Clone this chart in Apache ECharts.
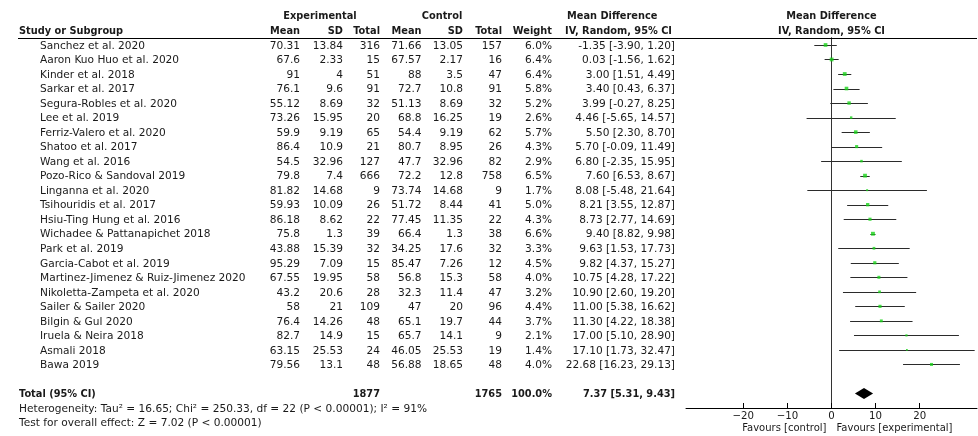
<!DOCTYPE html>
<html>
<head>
<meta charset="utf-8">
<script src="https://cdn.jsdelivr.net/npm/echarts@6/dist/echarts.min.js"></script>
<style>
  html, body { margin: 0; padding: 0; background: #fff; }
  #chart { width: 978px; height: 436px; }
</style>
</head>
<body>
<div id="chart"></div>
<script>
// ---- Study-level data -------------------------------------------------
const studies = [
  'Sanchez et al. 2020', 'Aaron Kuo Huo et al. 2020', 'Kinder et al. 2018', 'Sarkar et al. 2017',
  'Segura-Robles et al. 2020', 'Lee et al. 2019', 'Ferriz-Valero et al. 2020', 'Shatoo et al. 2017',
  'Wang et al. 2016', 'Pozo-Rico & Sandoval 2019', 'Linganna et al. 2020', 'Tsihouridis et al. 2017',
  'Hsiu-Ting Hung et al. 2016', 'Wichadee & Pattanapichet 2018', 'Park et al. 2019', 'Garcia-Cabot et al. 2019',
  'Martinez-Jimenez & Ruiz-Jimenez 2020', 'Nikoletta-Zampeta et al. 2020', 'Sailer & Sailer 2020',
  'Bilgin & Gul 2020', 'Iruela & Neira 2018', 'Asmali 2018', 'Bawa 2019'
];
const expMean = [70.31, 67.6, 91, 76.1, 55.12, 73.26, 59.9, 86.4, 54.5, 79.8, 81.82, 59.93, 86.18, 75.8, 43.88, 95.29, 67.55, 43.2, 58, 76.4, 82.7, 63.15, 79.56];
const expSD   = [13.84, 2.33, 4, 9.6, 8.69, 15.95, 9.19, 10.9, 32.96, 7.4, 14.68, 10.09, 8.62, 1.3, 15.39, 7.09, 19.95, 20.6, 21, 14.26, 14.9, 25.53, 13.1];
const expN    = [316, 15, 51, 91, 32, 20, 65, 21, 127, 666, 9, 26, 22, 39, 32, 15, 58, 28, 109, 48, 15, 24, 48];
const ctlMean = [71.66, 67.57, 88, 72.7, 51.13, 68.8, 54.4, 80.7, 47.7, 72.2, 73.74, 51.72, 77.45, 66.4, 34.25, 85.47, 56.8, 32.3, 47, 65.1, 65.7, 46.05, 56.88];
const ctlSD   = [13.05, 2.17, 3.5, 10.8, 8.69, 16.25, 9.19, 8.95, 32.96, 12.8, 14.68, 8.44, 11.35, 1.3, 17.6, 7.26, 15.3, 11.4, 20, 19.7, 14.1, 25.53, 18.65];
const ctlN    = [157, 16, 47, 91, 32, 19, 62, 26, 82, 758, 9, 41, 22, 38, 32, 12, 58, 47, 96, 44, 9, 19, 48];
const weight  = [6.0, 6.4, 6.4, 5.8, 5.2, 2.6, 5.7, 4.3, 2.9, 6.5, 1.7, 5.0, 4.3, 6.6, 3.3, 4.5, 4.0, 3.2, 4.4, 3.7, 2.1, 1.4, 4.0];
const meanDiff = [-1.35, 0.03, 3.00, 3.40, 3.99, 4.46, 5.50, 5.70, 6.80, 7.60, 8.08, 8.21, 8.73, 9.40, 9.63, 9.82, 10.75, 10.90, 11.00, 11.30, 17.00, 17.10, 22.68];
const ciLow   = [-3.90, -1.56, 1.51, 0.43, -0.27, -5.65, 2.30, -0.09, -2.35, 6.53, -5.48, 3.55, 2.77, 8.82, 1.53, 4.37, 4.28, 2.60, 5.38, 4.22, 5.10, 1.73, 16.23];
const ciHigh  = [1.20, 1.62, 4.49, 6.37, 8.25, 14.57, 8.70, 11.49, 15.95, 8.67, 21.64, 12.87, 14.69, 9.98, 17.73, 15.27, 17.22, 19.20, 16.62, 18.38, 28.90, 32.47, 29.13];

// ---- Pooled result ----------------------------------------------------
const totalExpN = 1877;
const totalCtlN = 1765;
const totalWeight = 100.0;
const pooled = [7.37, 5.31, 9.43];   // estimate, lower, upper
const heterogeneityText = 'Heterogeneity: Tau\u00B2 = 16.65; Chi\u00B2 = 250.33, df = 22 (P < 0.00001); I\u00B2 = 91%';
const overallText = 'Test for overall effect: Z = 7.02 (P < 0.00001)';

// ---- Axis -------------------------------------------------------------
const xTicks = [-20, -10, 0, 10, 20];
const favours = ['Favours [control]', 'Favours [experimental]'];

// ---- Layout -----------------------------------------------------------
const FONT = "'DejaVu Sans', sans-serif";
const FS = 10.6;
const FS_BOLD = 9.8;
const TXT = '#1a1a1a';
const COL = { name: 40, left: 19, eMean: 300, eSD: 343, eN: 380, cMean: 421.5, cSD: 463, cN: 502, weight: 552, ci: 675, ciHead: 565 };
const TOTAL_ROW = studies.length + 1;

function txt(x, y, text, align, bold, size) {
  return {
    type: 'text',
    style: {
      x: x, y: y, text: text,
      align: align || 'left', verticalAlign: 'middle',
      fontFamily: FONT, fontSize: size || (bold ? FS_BOLD : FS), fontWeight: bold ? 'bold' : 'normal',
      fill: TXT
    }
  };
}

const studyRows = studies.map((s, i) => [meanDiff[i], i]);

const option = {
  animation: false,
  backgroundColor: '#ffffff',
  grid: { left: 686, right: 1, top: 37.7, height: 370.3, containLabel: false },
  xAxis: {
    type: 'value', min: -33, max: 33,
    axisLine: { show: true, onZero: false, lineStyle: { color: '#000', width: 1 } },
    axisTick: { show: true, inside: true, length: 5, customValues: xTicks, lineStyle: { color: '#000' } },
    axisLabel: {
      show: true, customValues: xTicks, margin: 3,
      fontFamily: FONT, fontSize: 10.2, color: TXT,
      formatter: v => String(v).replace('-', '\u2212')
    },
    splitLine: { show: false }
  },
  yAxis: {
    type: 'value', inverse: true, min: -0.5, max: 25,
    axisLine: { show: true, onZero: true, lineStyle: { color: '#333', width: 1 } },
    axisTick: { show: false }, axisLabel: { show: false }, splitLine: { show: false }
  },
  series: [
    // confidence interval whiskers
    {
      type: 'custom', clip: false, silent: true,
      data: studyRows,
      encode: { x: 0, y: 1 },
      renderItem: (params, api) => {
        const i = params.dataIndex;
        const a = api.coord([ciLow[i], i]);
        const b = api.coord([ciHigh[i], i]);
        const y = Math.round(a[1]) + 0.5;
        return { type: 'line', shape: { x1: a[0], y1: y, x2: b[0], y2: y }, style: { stroke: '#2b2b2b', lineWidth: 1 } };
      },
      z: 2
    },
    // point estimates, sized by weight
    {
      type: 'scatter', silent: true,
      data: studies.map((s, i) => [meanDiff[i], i, weight[i]]),
      symbol: 'rect',
      symbolSize: v => 1.5 * Math.sqrt(v[2]),
      itemStyle: { color: '#19d219' },
      z: 3
    },
    // pooled diamond
    {
      type: 'custom', clip: false, silent: true,
      data: [[pooled[0], TOTAL_ROW]],
      encode: { x: 0, y: 1 },
      renderItem: (params, api) => {
        const c = api.coord([pooled[0], TOTAL_ROW]);
        const l = api.coord([pooled[1], TOTAL_ROW]);
        const r = api.coord([pooled[2], TOTAL_ROW]);
        const h = 5.5;
        return {
          type: 'polygon',
          shape: { points: [[l[0], c[1]], [c[0], c[1] - h], [r[0], c[1]], [c[0], c[1] + h]] },
          style: { fill: '#000' }
        };
      },
      z: 3
    },
    // study rows of the table
    {
      type: 'custom', clip: false, silent: true,
      data: studyRows,
      encode: { x: 0, y: 1 },
      renderItem: (params, api) => {
        const i = params.dataIndex;
        const y = api.coord([0, i])[1] + 1;
        const ci = meanDiff[i].toFixed(2) + ' [' + ciLow[i].toFixed(2) + ', ' + ciHigh[i].toFixed(2) + ']';
        return {
          type: 'group',
          children: [
            txt(COL.name, y, studies[i]),
            txt(COL.eMean, y, String(expMean[i]), 'right'),
            txt(COL.eSD, y, String(expSD[i]), 'right'),
            txt(COL.eN, y, String(expN[i]), 'right'),
            txt(COL.cMean, y, String(ctlMean[i]), 'right'),
            txt(COL.cSD, y, String(ctlSD[i]), 'right'),
            txt(COL.cN, y, String(ctlN[i]), 'right'),
            txt(COL.weight, y, weight[i].toFixed(1) + '%', 'right'),
            txt(COL.ci, y, ci, 'right')
          ]
        };
      },
      z: 4
    },
    // headers, totals, footnotes
    {
      type: 'custom', clip: false, silent: true,
      data: [[0, 0]],
      encode: { x: 0, y: 1 },
      renderItem: (params, api) => {
        const rowY = r => api.coord([0, r])[1] + 1;
        const x0 = api.coord([0, 0])[0];
        const lineY = Math.round(api.coord([0, -0.5])[1]) + 0.5;
        const yH1 = rowY(-2), yH2 = rowY(-1);
        const yT = rowY(TOTAL_ROW);
        const pooledText = pooled[0].toFixed(2) + ' [' + pooled[1].toFixed(2) + ', ' + pooled[2].toFixed(2) + ']';
        const yFav = api.coord([0, 26.4])[1];
        return {
          type: 'group',
          children: [
            { type: 'line', shape: { x1: 18, y1: lineY, x2: 977, y2: lineY }, style: { stroke: '#000', lineWidth: 1.2 } },
            txt(320, yH1, 'Experimental', 'center', true),
            txt(442, yH1, 'Control', 'center', true),
            txt(COL.ciHead + 2, yH1, 'Mean Difference', 'left', true),
            txt(x0, yH1, 'Mean Difference', 'center', true),
            txt(COL.left, yH2, 'Study or Subgroup', 'left', true),
            txt(COL.eMean, yH2, 'Mean', 'right', true),
            txt(COL.eSD, yH2, 'SD', 'right', true),
            txt(COL.eN, yH2, 'Total', 'right', true),
            txt(COL.cMean, yH2, 'Mean', 'right', true),
            txt(COL.cSD, yH2, 'SD', 'right', true),
            txt(COL.cN, yH2, 'Total', 'right', true),
            txt(COL.weight, yH2, 'Weight', 'right', true),
            txt(COL.ciHead, yH2, 'IV, Random, 95% CI', 'left', true),
            txt(x0, yH2, 'IV, Random, 95% CI', 'center', true),
            txt(COL.left, yT, 'Total (95% CI)', 'left', true),
            txt(COL.eN, yT, String(totalExpN), 'right', true),
            txt(COL.cN, yT, String(totalCtlN), 'right', true),
            txt(COL.weight, yT, totalWeight.toFixed(1) + '%', 'right', true),
            txt(COL.ci, yT, pooledText, 'right', true),
            txt(COL.left, rowY(TOTAL_ROW + 1), heterogeneityText, 'left'),
            txt(COL.left, rowY(TOTAL_ROW + 2), overallText, 'left'),
            txt(x0 - 5, yFav, favours[0], 'right', false, 10),
            txt(x0 + 5, yFav, favours[1], 'left', false, 10)
          ]
        };
      },
      z: 4
    }
  ]
};

const chart = echarts.init(document.getElementById('chart'));
chart.setOption(option);
</script>
</body>
</html>
